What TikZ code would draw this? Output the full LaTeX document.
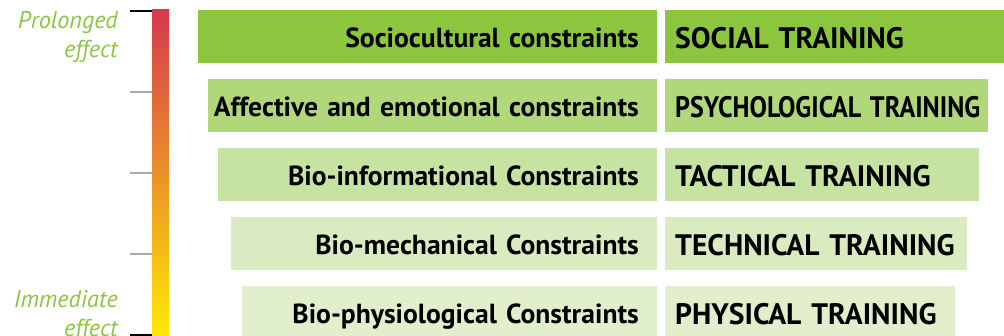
\documentclass[tikz,border=0pt]{standalone}
\usepackage{fontspec}
\setmainfont{PT Sans}
\usetikzlibrary{positioning,calc}
\definecolor{socio}{RGB}{140,198,63}
\definecolor{affect}{RGB}{176,216,122}
\definecolor{bioinfo}{RGB}{198,227,161}
\definecolor{biomech}{RGB}{218,235,193}
\definecolor{biophys}{RGB}{225,239,205}
\definecolor{effecttext}{RGB}{141,198,63}
\definecolor{barred}{RGB}{214,56,80}
\definecolor{barorange}{RGB}{232,135,62}
\definecolor{baryellow}{RGB}{255,234,0}
\definecolor{tickgray}{RGB}{170,170,170}

\begin{document}
\begin{tikzpicture}[x=1pt, y=-1pt,
				constraint/.style={rectangle, minimum height=53pt, inner xsep=0pt, inner ysep=0pt, text width=#1, align=right, anchor=north east, execute at end node={\hspace*{18pt}}, font=\bfseries\fontsize{27.6}{30}\selectfont, text height=24.5pt, text depth=2pt},
				training/.style={rectangle, minimum height=53pt, inner xsep=10pt, inner ysep=0pt, text width=#1, align=left, font=\bfseries\fontsize{29.6}{32}\selectfont, text height=26pt, text depth=2pt},
				effect/.style={inner sep=0pt, align=right, anchor=north east, text=effecttext, font=\itshape\fontsize{24.2}{29}\selectfont},
				gauge/.style={rectangle, minimum width=17pt, minimum height=326pt, inner sep=0pt, top color=barred, middle color=barorange, bottom color=baryellow}
			]
			\useasboundingbox (0,0) rectangle (1004,336);
			% constraints, right aligned
			\node[constraint=459pt, fill=socio] (socio) at (657,10) {Sociocultural constraints};
			\node[constraint=449pt, fill=affect, below=15.5pt of socio.south east, anchor=north east] (affect) {Affective and emotional constraints};
			\node[constraint=439pt, fill=bioinfo, below=15.5pt of affect.south east, anchor=north east] (bioinfo) {Bio-informational Constraints};
			\node[constraint=426pt, fill=biomech, below=15.5pt of bioinfo.south east, anchor=north east] (biomech) {Bio-mechanical Constraints};
			\node[constraint=415pt, fill=biophys, below=15.5pt of biomech.south east, anchor=north east] (biophys) {Bio-physiological Constraints};
			% trainings
			\node[training=319pt, fill=socio] (social) [right=8pt of socio] {SOCIAL TRAINING};
			\node[training=303pt, fill=affect] (psycho) [right=8pt of affect] {\scalebox{0.88}[1]{PSYCHOLOGICAL TRAINING}};
			\node[training=294pt, fill=bioinfo] (tactical) [right=8pt of bioinfo] {TACTICAL TRAINING};
			\node[training=282pt, fill=biomech] (technical) [right=8pt of biomech] {TECHNICAL TRAINING};
			\node[training=270pt, fill=biophys] (physical) [right=8pt of biophys] {PHYSICAL TRAINING};
			% effect scale
			\node[gauge] (gauge) at (160.5,173) {};
			\coordinate (hi) at ($(gauge.north west)+(0,1)$);
			\coordinate (lo) at ($(gauge.south west)+(0,-1)$);
			\foreach \f/\c in {0/black, 0.25/tickgray, 0.5/tickgray, 0.75/tickgray, 1/black}
				\draw[\c, line width=1.5pt] ($(hi)!\f!(lo)$) -- ++(-22,0);
			\node[effect] (prolonged) at (118,11) {Prolonged\\effect};
			\node[effect] (immediate) at (118,290) {Immediate\\effect};
			\end{tikzpicture}
\end{document}
